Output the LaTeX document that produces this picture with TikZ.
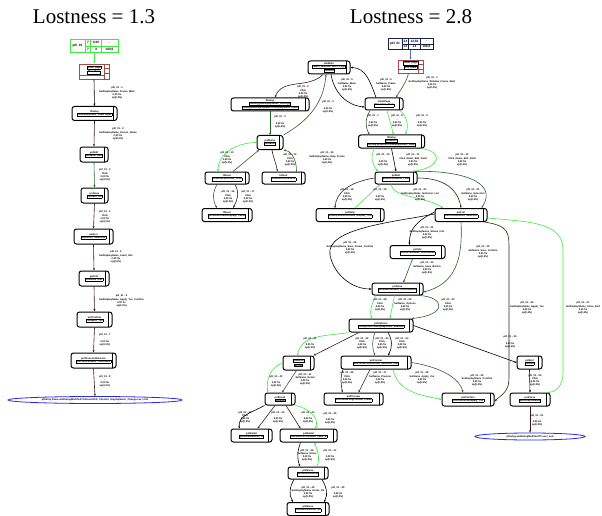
\documentclass[tikz,border=0pt]{standalone}
\usepackage{fontspec}
\setmainfont{Liberation Serif}
\newfontfamily\lblsans{Liberation Sans}
\usetikzlibrary{arrows.meta,shapes.geometric}
\definecolor{lgrn}{RGB}{60,235,60}
\definecolor{dgrn}{RGB}{40,100,40}
\definecolor{dbrn}{RGB}{65,25,25}
\definecolor{redbx}{RGB}{170,75,75}
\definecolor{navy}{RGB}{25,35,70}
\definecolor{steel}{RGB}{80,120,170}
\definecolor{elblue}{RGB}{40,40,235}
\newcommand\ndfont{\lblsans\bfseries\fontsize{2.5}{3}\selectfont}
\newcommand\cellfont{\lblsans\bfseries\fontsize{3.2}{3.6}\selectfont}
\newcommand\lbfont{\lblsans\bfseries\fontsize{2.5}{3.1}\selectfont}
\newcommand\rw[1]{\fbox{#1}}
\setlength\fboxsep{0.3pt}
\setlength\fboxrule{0.3pt}
\tikzset{
  st/.style={draw, line width=1pt, rounded corners=2.5pt, fill=white, align=center,
    inner sep=0pt, font=\ndfont,
    path picture={\draw[line width=0.4pt]
      ([xshift=-3.5pt]path picture bounding box.north east) --
      ([xshift=-3.5pt]path picture bounding box.south east);}},
  sz/.style 2 args={minimum width=#1pt, minimum height=#2pt},
  ar/.style={-{Stealth[length=2.4pt,width=2pt]}, line width=0.6pt},
  lb/.style={font=\lbfont, align=center, inner sep=0pt},
  cell/.style={font=\cellfont, inner sep=0pt},
  fin/.style={ellipse, draw=elblue, line width=0.8pt, fill=white, inner sep=0pt, font=\ndfont},
  ipg/.style={draw=redbx, line width=0.8pt, fill=white, align=center, inner sep=0pt, font=\ndfont,
    path picture={\draw[redbx, line width=0.4pt]
      ([xshift=-5pt]path picture bounding box.north east) -- ([xshift=-5pt]path picture bounding box.south east)
      ([xshift=-5pt,yshift=-4.5pt]path picture bounding box.north east) -- ([yshift=-4.5pt]path picture bounding box.north east)
      ([xshift=-5pt,yshift=-9pt]path picture bounding box.north east) -- ([yshift=-9pt]path picture bounding box.north east)
      ([yshift=4pt]path picture bounding box.south west) -- ([xshift=-5pt,yshift=4pt]path picture bounding box.south east);}},
  tb/.style={draw, line width=1pt, fill=white, inner sep=0pt},
}
\begin{document}
\begin{tikzpicture}[x=1pt,y=-1pt]
  \useasboundingbox (0,0) rectangle (602,516);
  \node[font=\fontsize{21}{24}\selectfont] (ttlL) at (94,17) {Lostness = 1.3};
  \node[font=\fontsize{21}{24}\selectfont] (ttlR) at (411,17) {Lostness = 2.8};

  % left path
  \node[tb, draw=lgrn, sz={48}{13}] (tabL) at (94,46.5) {};
  \draw[lgrn, line width=0.6pt] ([xshift=16pt]tabL.north west) -- ([xshift=16pt]tabL.south west)
    ([xshift=16pt]tabL.west) -- (tabL.east)
    ([xshift=21pt]tabL.north west) -- ([xshift=21pt]tabL.south west)
    ([xshift=32pt]tabL.north west) -- ([xshift=32pt]tabL.south west);
  \foreach[count=\i] \dx/\dy/\t in {8/6.5/p0l\_01, 18.5/3.2/7, 26.5/3.2/0{,}00, 40/3.2/-,
      18.5/9.8/7, 26.5/9.8/4, 40/9.8/100{,}0}
    \node[cell] (tabL-\i) at ([shift={(\dx,\dy)}]tabL.north west) {\t};
  \node[ipg, sz={30}{15}] (redL) at (94,71.5) {\rw{initial\_page}\\\rw{fPnl\_Main}\\[1pt]};
  \node[st, sz={45}{14}] (n1) at (94.5,113.5) {fDialog\\\rw{txtDisplayName\_Label.Input}};
  \node[st, sz={28}{15}] (n2) at (94,154.5) {pnlEdit\\\rw{txtName\_Edit}};
  \node[st, sz={27}{15}] (n3) at (94.5,195.5) {pnlSave\\\rw{btnSave\_Ok}};
  \node[st, sz={39}{15}] (n4) at (93.5,236.5) {pnlList\\\rw{lstEntries\_Selection}};
  \node[st, sz={30}{15}] (n5) at (94,278.5) {pnlInfo\\\rw{lblStatus\_Info}};
  \node[st, sz={35}{15}] (n6) at (94.5,319.5) {pnlConfirm\\\rw{btnApply\_Yes}};
  \node[st, sz={45}{15}] (n7) at (93.5,360.5) {pnlClose.btnEnd.exe\\\rw{pnlClose.btnEnd\_Confirmed}};
  \node[fin, minimum width=174pt, minimum height=7pt] (ellL) at (95,400)
    {pDialog.frame.winDialogModifiedTCAbout.DFD\_Checker\_DisplayName\_Change.exe | end};
  \draw[ar, lgrn] (tabL.south) -- (redL.north);
  \foreach \a/\b/\c in {redL/n1/black, n1/n2/dbrn, n2/n3/dgrn, n3/n4/dbrn, n4/n5/dbrn,
      n5/n6/dbrn, n6/n7/dbrn, n7/ellL/dbrn}
    \draw[ar, \c] (\a.south) -- (\b.north);
  \foreach[count=\i] \y/\s in {93/SetDisplayName\_Frame\_Main, 134/SetDisplayName\_Screen\_Name,
      175/Click, 217/Click, 257/SetDisplayName\_Label\_Info, 301/SetDisplayName\_Apply\_Yes\_Confirm,
      340/-, 381/-}
    \node[lb, anchor=west] (lbL\i) at (99,\y) {p0l\_01 - \i\\\s\\0,00 fix\\op(0,0\%)};

  % right path
  \node[tb, draw=navy, sz={45}{11}] (tabR) at (410.5,44.5) {};
  \draw[navy, line width=0.6pt] ([xshift=15pt]tabR.north west) -- ([xshift=15pt]tabR.south west)
    ([xshift=15pt]tabR.west) -- (tabR.east)
    ([xshift=21pt]tabR.north west) -- ([xshift=21pt]tabR.south west)
    ([xshift=33pt]tabR.north west) -- ([xshift=33pt]tabR.south west);
  \foreach[count=\i] \dx/\dy/\t in {7.5/5.5/p0l\_01, 18/2.8/24, 27/2.8/12{,}50, 39/2.8/-,
      18/8.3/15, 27/8.3/14, 39/8.3/166{,}6}
    \node[cell] (tabR-\i) at ([shift={(\dx,\dy)}]tabR.north west) {\t};
  \node[ipg, sz={25}{13}] (redR) at (410.5,66.5) {\rw{initial\_page}\\\rw{fPnl\_Main}\\[0.5pt]};
  \node[st, sz={42}{13}] (T) at (329,67.5) {winMain\\\rw{fMain\_Window\_Start\_Page}\\\rw{pnlStart}};
  \node[st, sz={38}{12}] (A) at (384,104) {initialPage\\\rw{fPnl\_Main\_Start}};
  \node[st, sz={78}{13}] (L1) at (270,104.5) {fDialog\\\rw{fDialog.pnlDisplayName\_Settings}\\\rw{fDialog.pnlDisplayName.txtDisplayName\_Input}};
  \node[st, sz={26}{14}] (L2) at (270,142.5) {pnlName\\\rw{txtName}};
  \node[st, sz={66}{13}] (B) at (391.5,141.5) {fDialog\\\rw{pnlEditor}\\\rw{fDialog.pnlEditor.txtDisplayName\_Input}};
  \node[st, sz={44}{12}] (L3) at (227,178) {fAbout\\\rw{pnlAbout.btnClose\_Click}};
  \node[st, sz={43}{12}] (L4) at (283.5,178) {fAbout\\\rw{pnlAbout.lblVersion}};
  \node[st, sz={42}{12}] (C) at (396,178) {pnlEdit\\\rw{pnlEdit.txtName\_Field}};
  \node[st, sz={50}{13}] (L5) at (227,215) {fAbout\\\rw{pnlAbout.lnkHomepage\_Label}};
  \node[st, sz={68}{13}] (M1) at (350,215) {pnlHelp\\\rw{pnlHelp.lblInstructions\_Display\_Text}};
  \node[st, sz={52}{13}] (D) at (461,215) {pnlList\\\rw{pnlList.lstEntries\_Selection}};
  \node[st, sz={55}{13}] (E) at (417.5,252) {pnlInfo\\\rw{pnlInfo.lblStatus\_Information}};
  \node[st, sz={51}{12}] (F) at (397.5,289) {pnlSave\\\rw{pnlSave.btnSave\_Confirmation}};
  \node[st, sz={64}{13}] (G) at (381,325.5) {pnlOptions\\\rw{pnlOptions.chkDisplayName\_Enabled}};
  \node[st, sz={31}{14}] (H) at (298.5,363) {\rw{pnlExtra}\\\rw{btnOk}};
  \node[st, sz={70}{13}] (I) at (376,362.5) {pnlFormat\\\rw{pnlFormat.cboFormat\_Selection\_List}};
  \node[st, sz={25}{13}] (N) at (529.5,362.5) {pnlEnd\\\rw{btnExit}};
  \node[st, sz={30}{12}] (P) at (280,399) {pnlDetail\\\rw{lblDetail}};
  \node[st, sz={59}{12}] (J) at (353.5,399) {pnlPreview\\\rw{pnlPreview.imgPreview\_Frame}};
  \node[st, sz={52}{13}] (K) at (468,399.5) {pnlConfirm\\\rw{pnlConfirm.btnApply\_Yes}};
  \node[st, sz={40}{13}] (O) at (530,399.5) {pnlClose\\\rw{pnlClose.btnEnd}};
  \node[st, sz={41}{13}] (Q) at (251.5,435.5) {pnlDetail\\\rw{pnlDetail.lblNote\_A}};
  \node[st, sz={57}{13}] (R) at (308.5,435.5) {pnlDetail\\\rw{pnlDetail.txtComment\_Input\_B}};
  \node[st, sz={40}{12}] (S) at (308,473) {pnlNotes\\\rw{pnlNotes.txtNote}};
  \node[st, sz={42}{13}] (U) at (308,509) {pnlNotes\\\rw{pnlNotes.btnNote\_Ok}};
  \node[fin, minimum width=110pt, minimum height=7pt] (ellR) at (530,436.5)
    {pDialog.winDialogModifiedTC.exe | end};

  \draw[ar, steel] (tabR.south) -- (redR.north);
  \draw[ar, dgrn] ([xshift=-2pt]redR.south) to[out=-105,in=60] ([xshift=12pt]A.north);
  \draw[ar, dbrn] ([xshift=-6pt]T.south) to[out=-135,in=70] ([xshift=5pt]L1.north);
  \draw[ar, dgrn] (L1.south) -- (L2.north);
  \draw[ar, dgrn] (L2.north east) to[out=30,in=-95] ([xshift=-3pt]T.south);
  \draw[ar] ([xshift=2pt]T.south) to[out=-80,in=175] ([yshift=-3pt]A.west);
  \draw[ar] ([xshift=-8pt]A.north) to[out=110,in=0] (T.east);
  \draw[ar, dgrn] ([xshift=-14pt]A.south) to[out=-120,in=120] ([xshift=-22pt]B.north);
  \draw[ar, lgrn] ([xshift=3pt]A.south) -- ([xshift=2pt]B.north);
  \draw[ar, lgrn] ([xshift=16pt]A.south) to[out=-40,in=70] ([xshift=14pt]B.north);
  \draw[ar] (B.south) -- (C.north);
  \draw[ar, lgrn] ([xshift=-17pt]B.south) to[out=-120,in=130] ([xshift=-18pt]C.north);
  \draw[ar, lgrn] ([xshift=30pt]B.south) .. controls (445,152) and (440,168) .. ([xshift=16pt]C.north);
  \draw[ar, lgrn] (L2.west) to[out=180,in=90] ([xshift=-9pt]L3.north);
  \draw[ar, dgrn] ([xshift=6pt]L3.north) -- ([xshift=-11pt]L2.south);
  \draw[ar, dbrn] ([xshift=2pt]L2.south) to[out=-80,in=100] ([xshift=-6pt]L4.north);
  \draw[ar, dgrn] ([xshift=13pt]L4.north) to[out=90,in=-10] (L2.south east);
  \draw[ar, dgrn] ([xshift=-10pt]L3.south) to[out=-120,in=120] ([xshift=-10pt]L5.north);
  \draw[ar, dbrn] ([xshift=8pt]L3.south) to[out=-60,in=60] ([xshift=6pt]L5.north);
  \draw[ar, dbrn] (C.west) .. controls (350,182) and (336,192) .. ([xshift=-15pt]M1.north);
  \draw[ar, lgrn] ([xshift=5pt]M1.north) -- ([xshift=-16pt]C.south);
  \draw[ar, lgrn] ([xshift=-5pt]C.south) .. controls (393,198) and (425,196) .. ([xshift=-18pt]D.north);
  \draw[ar, dbrn] (C.east) .. controls (445,178) and (458,190) .. (D.north);
  \draw[ar, dgrn] ([xshift=-3pt]C.north east) .. controls (455,170) and (500,180) .. ([xshift=-6pt]D.north east);
  \draw[ar] ([yshift=3pt]D.west) .. controls (415,222) and (409,230) .. ([xshift=-8pt]E.north);
  \draw[ar] ([yshift=1pt]D.west) .. controls (395,222) and (325,228) .. (330,255)
    .. controls (334,275) and (352,289) .. (F.west);
  \draw[ar, dgrn] (D.south) .. controls (463,260) and (455,284) .. ([yshift=-3pt]F.east);
  \draw[ar, dgrn] ([xshift=-5pt]E.south) -- ([xshift=6pt]F.north);
  \draw[ar, dbrn] ([xshift=-3pt]D.south east) .. controls (509,226) and (509,232) .. (509,250)
    -- (509,378) .. controls (509,392) and (502,394) .. ([yshift=-2pt]K.east);
  \draw[ar, lgrn] ([yshift=-3pt]D.east) .. controls (530,222) and (563,222) .. (563,250)
    -- (563,372) .. controls (563,390) and (552,392) .. ([xshift=-3pt]O.north east);
  \draw[ar, lgrn] ([xshift=-22pt]F.south) to[out=-110,in=110] ([xshift=-9pt]G.north);
  \draw[ar, lgrn] ([xshift=-3pt]F.south) -- ([xshift=9pt]G.north);
  \draw[ar, dgrn] ([xshift=22pt]F.south) .. controls (445,297) and (448,315) .. ([xshift=-2pt]G.north east);
  \draw[ar, dbrn] ([xshift=-22pt]G.south) -- ([xshift=-1pt]H.north east);
  \draw[ar, lgrn] (G.south west) to[out=190,in=80] ([xshift=-1pt]H.north);
  \draw[ar, dgrn] ([xshift=-6pt]G.south) to[out=-110,in=110] ([xshift=-1pt]I.north);
  \draw[ar] ([xshift=7pt]G.south) to[out=-60,in=60] ([xshift=12pt]I.north);
  \draw[ar] (G.east) -- (N.west);
  \draw[ar, dbrn] ([xshift=-33pt]I.south) to[out=-110,in=100] ([xshift=-11pt]J.north);
  \draw[ar, dbrn] ([xshift=-6pt]I.south) -- ([xshift=5pt]J.north);
  \draw[ar, lgrn] ([xshift=17pt]I.south) .. controls (398,392) and (420,395) .. (K.west);
  \draw[ar, dgrn] (I.east) .. controls (445,368) and (460,380) .. ([xshift=-5pt]K.north);
  \draw[ar] (N.south) -- (O.north);
  \draw[ar, dbrn] (O.south) -- (ellR.north);
  \draw[ar, dgrn] ([xshift=-2pt]H.south) -- ([xshift=2pt]P.north);
  \draw[ar, lgrn] (H.west) to[out=200,in=100] ([xshift=-12pt]P.north);
  \draw[ar] (P.south west) to[out=-150,in=100] ([xshift=-12pt]Q.north);
  \draw[ar, dbrn] ([xshift=-5pt]P.south) -- ([xshift=6pt]Q.north);
  \draw[ar, dbrn] ([xshift=6pt]P.south) -- ([xshift=-8pt]R.north);
  \draw[ar, lgrn] (P.south east) to[out=-10,in=70] ([xshift=7pt]R.north);
  \draw[ar] ([xshift=-8pt]R.south) to[out=-110,in=110] ([xshift=-8pt]S.north);
  \draw[ar, lgrn] ([xshift=9pt]S.north) to[out=70,in=-70] ([xshift=6pt]R.south);
  \draw[ar] ([xshift=-14pt]S.south) to[out=-120,in=120] ([xshift=-15pt]U.north);
  \draw[ar] ([xshift=14pt]S.south) to[out=-60,in=60] ([xshift=16pt]U.north);

  \foreach[count=\i] \x/\y/\s in {432/83/SetDisplayName\_Window\_Frame\_Start, 303/92/Click,
      280/122/-, 328/107/-, 347/85/SetName\_Main, 386/85/SetName\_Frame,
      373/121/-, 397/121/-, 422/121/-, 383/160/-, 413/160/Click\_Name\_Edit\_Field, 462/160/Click\_Name\_Edit\_Field,
      227/158/Click, 290/160/Click, 327/158/SetDisplayName\_Help\_Frame, 228/197/Click, 248/197/Click,
      347/195/Click, 380/195/-, 420/195/SetDisplayName\_Selection\_List, 473/195/SetName\_Selection,
      427/233/SetDisplayName\_Status\_Info, 350/248/SetDisplayName\_Save\_Frame\_Confirm,
      427/268/SetName\_Save\_Button, 483/252/SetName\_Save\_Confirm,
      527/308/SetDisplayName\_Apply\_Yes, 583/308/SetDisplayName\_Close\_End,
      380/305/Click, 405/305/SetName\_Options, 448/305/Click,
      310/343/-, 362/343/Click, 382/343/Click, 402/343/Click, 510/342/-,
      347/378/Click, 380/378/SetName\_Preview, 422/378/SetName\_Apply\_Yes, 477/380/SetDisplayName\_Confirm,
      276/381/-, 305/379/SetName\_Detail, 245/417/Click, 278/417/-, 308/417/-, 330/418/-,
      307/455/SetName\_Notes, 330/455/-, 308/492/SetDisplayName\_Notes\_Ok, 338/492/-,
      535/380/Click, 537/420/-}
    \node[lb] (lbR\i) at (\x,\y) {p0l\_01 - \i\\\s\\0,00 fix\\op(0,0\%)};
\end{tikzpicture}
\end{document}
